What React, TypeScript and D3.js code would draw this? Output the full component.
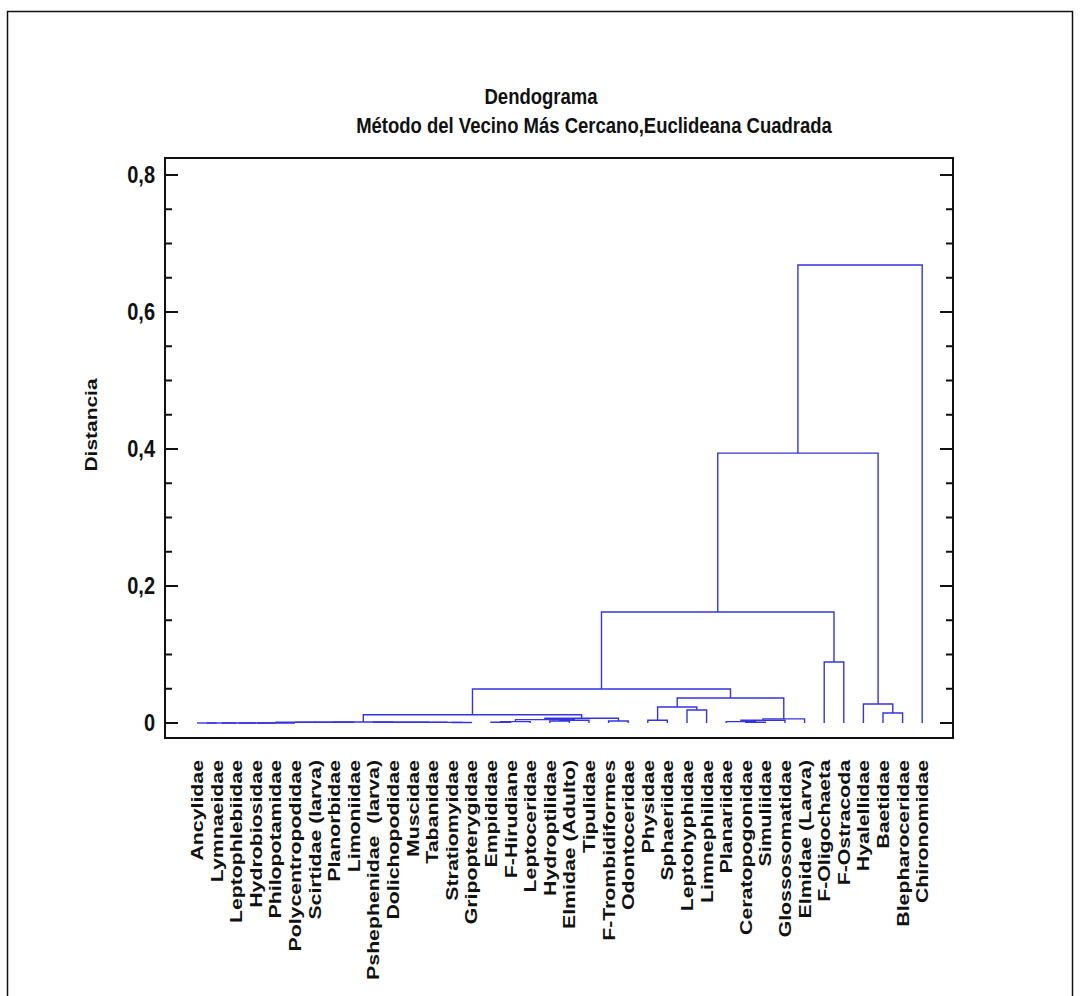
import React from "react";
import * as d3 from "d3";

const leafLabels: string[] = [
  "Ancylidae", "Lymnaeidae", "Leptophlebiidae", "Hydrobiosidae", "Philopotamidae",
  "Polycentropodidae", "Scirtidae (larva)", "Planorbidae", "Limoniidae", "Pshephenidae  (larva)",
  "Dolichopodidae", "Muscidae", "Tabanidae", "Stratiomyidae", "Gripopterygidae",
  "Empididae", "F-Hirudiane", "Leptoceridae", "Hydroptilidae", "Elmidae (Adulto)",
  "Tipulidae", "F-Trombidiformes", "Odontoceridae", "Physidae", "Sphaeriidae",
  "Leptohyphidae", "Limnephilidae", "Planariidae", "Ceratopogonidae", "Simuliidae",
  "Glossosomatidae", "Elmidae (Larva)", "F-Oligochaeta", "F-Ostracoda", "Hyalellidae",
  "Baetidae", "Blepharoceridae", "Chironomidae",
];

// linkage rows: [childA, childB, distance]; ids >= 38 refer to earlier rows (38 + row index)
const linkage: [number, number, number][] = [
  [0, 1, 0],
  [38, 2, 0],
  [39, 3, 0],
  [40, 4, 0],
  [41, 5, 0],
  [42, 6, 0.001],
  [43, 7, 0.001],
  [44, 8, 0.0012],
  [13, 14, 0.0008],
  [12, 46, 0.0009],
  [11, 47, 0.001],
  [10, 48, 0.001],
  [9, 49, 0.0011],
  [45, 50, 0.0015],
  [15, 16, 0.001],
  [52, 17, 0.002],
  [18, 19, 0.003],
  [54, 20, 0.004],
  [53, 55, 0.005],
  [21, 22, 0.003],
  [56, 57, 0.007],
  [51, 58, 0.012],
  [23, 24, 0.004],
  [25, 26, 0.019],
  [60, 61, 0.0234],
  [28, 29, 0.001],
  [27, 63, 0.002],
  [64, 30, 0.004],
  [65, 31, 0.006],
  [62, 66, 0.0365],
  [59, 67, 0.0496],
  [32, 33, 0.089],
  [68, 69, 0.162],
  [35, 36, 0.0146],
  [34, 71, 0.0277],
  [70, 72, 0.394],
  [73, 37, 0.6686],
];

const yMajorTicks: number[] = [0, 0.2, 0.4, 0.6, 0.8];
const yMajorLabels: string[] = ["0", "0,2", "0,4", "0,6", "0,8"];
const yMinorTicks: number[] = [0.05, 0.1, 0.15, 0.25, 0.3, 0.35, 0.45, 0.5, 0.55, 0.65, 0.7, 0.75];

const titleText = "Dendograma";
const subtitleText = "Método del Vecino Más Cercano,Euclideana Cuadrada";
const yTitle = "Distancia";

export default function App() {
  const W = 1086;
  const H = 996;
  const plot = { left: 165, right: 953, top: 158, bottom: 738 };
  const n = leafLabels.length;

  const x = d3.scaleLinear().domain([0, n - 1]).range([197, 922.2]);
  const y = d3.scaleLinear().domain([0, 0.8]).range([723, 175]);

  const pos: { x: number; h: number }[] = [];
  for (let i = 0; i < n; i++) pos.push({ x: x(i), h: 0 });
  const paths: string[] = [];
  linkage.forEach(([a, b, h]) => {
    const pa = pos[a];
    const pb = pos[b];
    const p = d3.path();
    p.moveTo(pa.x, y(pa.h));
    p.lineTo(pa.x, y(h));
    p.lineTo(pb.x, y(h));
    p.lineTo(pb.x, y(pb.h));
    paths.push(p.toString());
    pos.push({ x: (pa.x + pb.x) / 2, h });
  });

  const font = "'Liberation Sans', Arial, Helvetica, sans-serif";
  const lineColor = "#3535e0";

  return (
    <svg
      width={W}
      height={H}
      style={{ position: "absolute", left: 0, top: 0, background: "#fff" }}
      fontFamily={font}
    >
      <rect x={0} y={0} width={W} height={H} fill="#fff" />
      <rect x={7.5} y={11.5} width={1065} height={1010} fill="none" stroke="#111" strokeWidth={1.5} />

      <text transform="translate(541,104) scale(1,1.2)" textAnchor="middle" fontWeight="bold" fontSize={18.5} fill="#111">
        {titleText}
      </text>
      <text transform="translate(594,133) scale(1,1.2)" textAnchor="middle" fontWeight="bold" fontSize={18.5} fill="#111">
        {subtitleText}
      </text>

      {/* dendrogram */}
      <g fill="none" stroke={lineColor} strokeWidth={1.4}>
        {paths.map((d, i) => (
          <path key={i} d={d} />
        ))}
      </g>

      {/* frame */}
      <rect
        x={plot.left}
        y={plot.top}
        width={plot.right - plot.left}
        height={plot.bottom - plot.top}
        fill="none"
        stroke="#111"
        strokeWidth={2}
      />

      {/* ticks */}
      <g stroke="#111" strokeWidth={2}>
        {yMajorTicks.map((t) => (
          <g key={"M" + t}>
            <line x1={plot.left} x2={plot.left + 13} y1={y(t)} y2={y(t)} />
            <line x1={plot.right} x2={plot.right - 13} y1={y(t)} y2={y(t)} />
          </g>
        ))}
        {yMinorTicks.map((t) => (
          <g key={"m" + t}>
            <line x1={plot.left} x2={plot.left + 7} y1={y(t)} y2={y(t)} />
            <line x1={plot.right} x2={plot.right - 7} y1={y(t)} y2={y(t)} />
          </g>
        ))}
      </g>

      {yMajorTicks.map((t, i) => (
        <text
          key={"l" + t}
          transform={`translate(155,${y(t)}) scale(1,1.15)`}
          dy="0.36em"
          textAnchor="end"
          fontWeight="bold"
          fontSize={20}
          fill="#111"
        >
          {yMajorLabels[i]}
        </text>
      ))}

      <text
        transform={`translate(91,425) scale(1,1.27) rotate(-90)`}
        textAnchor="middle"
        dy="0.36em"
        fontWeight="bold"
        fontSize={16.5}
        fill="#111"
      >
        {yTitle}
      </text>

      {leafLabels.map((lab, i) => (
        <text
          key={lab + i}
          transform={`translate(${x(i)},760) scale(1,1.29) rotate(-90)`}
          textAnchor="end"
          dy="0.36em"
          fontWeight="bold"
          fontSize={16.5}
          fill="#111"
          style={{ whiteSpace: "pre" }}
        >
          {lab}
        </text>
      ))}
    </svg>
  );
}
